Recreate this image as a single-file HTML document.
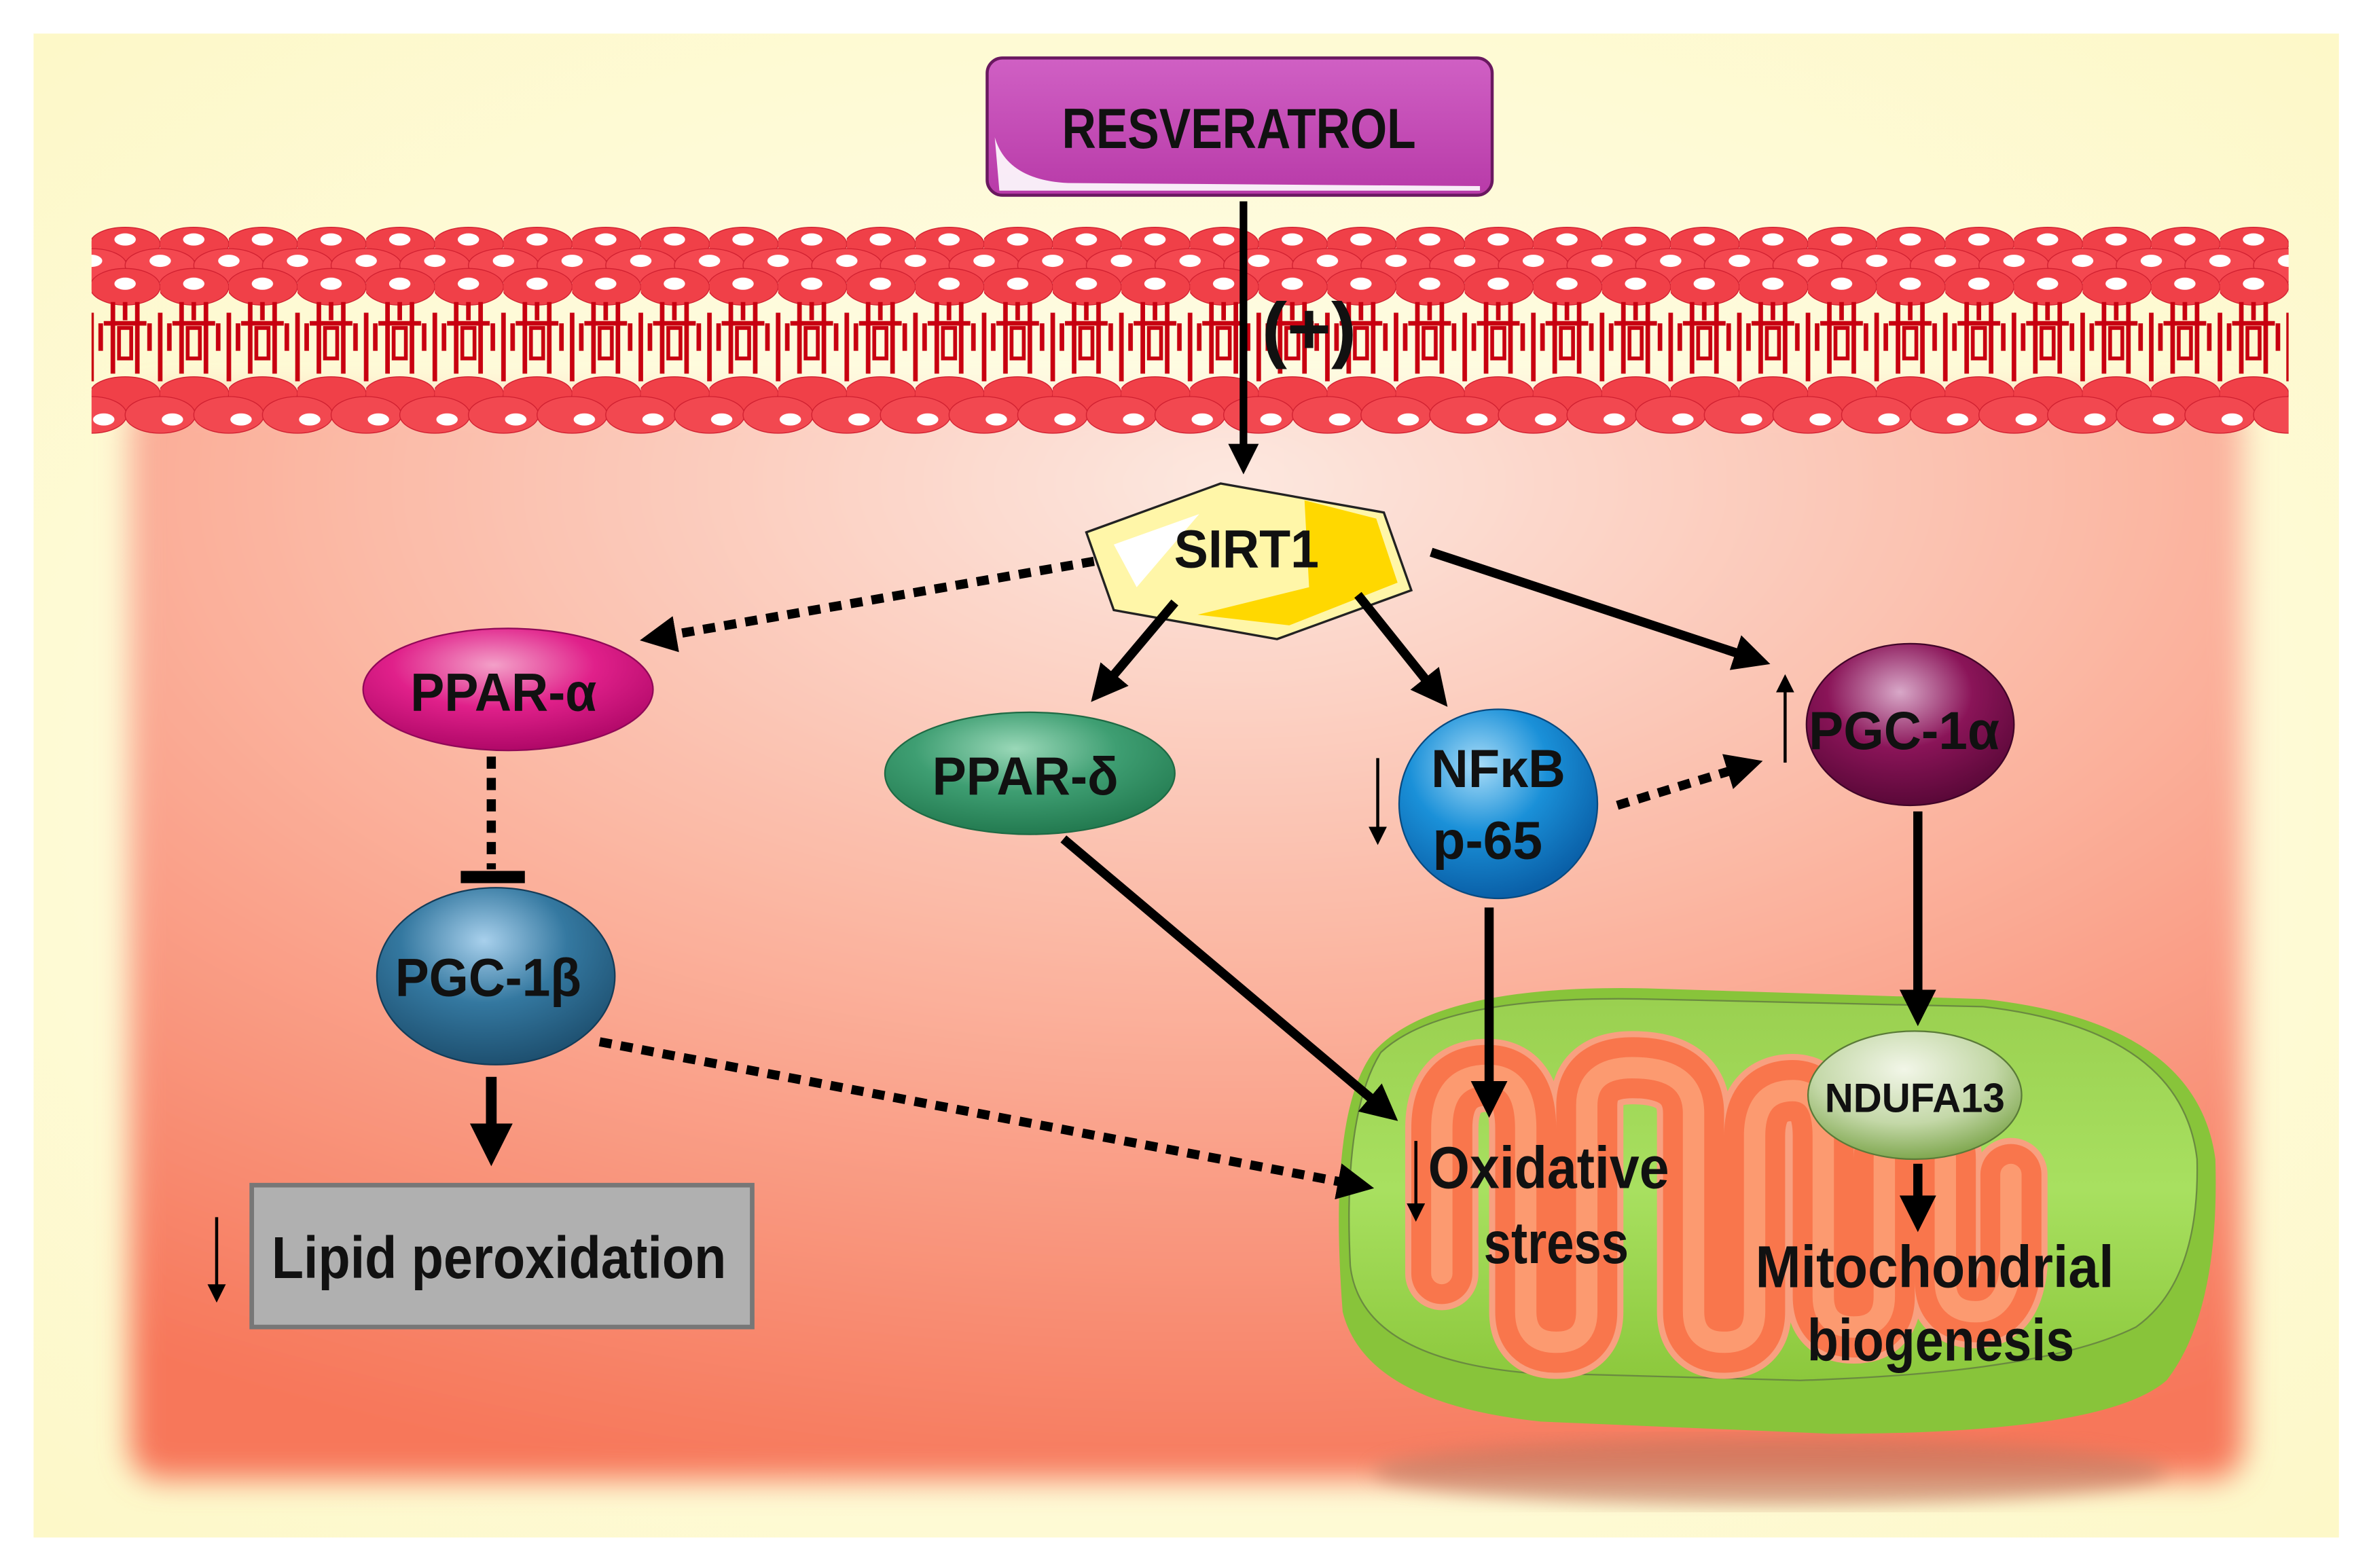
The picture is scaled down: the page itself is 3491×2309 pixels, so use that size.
<!DOCTYPE html>
<html><head><meta charset="utf-8"><style>
html,body{margin:0;padding:0;background:#fff;}
svg{display:block;}
text{font-family:"Liberation Sans",sans-serif;font-weight:bold;fill:#111;}
</style></head><body>
<svg width="3491" height="2309" viewBox="0 0 1554 1028" preserveAspectRatio="none" xmlns="http://www.w3.org/2000/svg">
<defs>
<radialGradient id="cream" cx="50%" cy="50%" r="70%">
<stop offset="0" stop-color="#fffef2"/><stop offset="1" stop-color="#fdf8c8"/></radialGradient>
<radialGradient id="cell" cx="52%" cy="8%" r="95%">
<stop offset="0" stop-color="#fde8e0"/><stop offset="0.45" stop-color="#fbb8a4"/><stop offset="1" stop-color="#f7775a"/></radialGradient>
<filter id="blur" x="-10%" y="-10%" width="120%" height="120%"><feGaussianBlur stdDeviation="10"/></filter>
<filter id="blur2"><feGaussianBlur stdDeviation="6"/></filter>
<pattern id="memTop" x="60" y="0" width="45" height="1028" patternUnits="userSpaceOnUse">
<ellipse cx="22" cy="160" rx="23" ry="11" fill="#f04048" stroke="#d02030" stroke-width="0.6"/>
<ellipse cx="22" cy="157" rx="7" ry="4" fill="#fff"/>
<ellipse cx="0" cy="174" rx="23" ry="11" fill="#f44850" stroke="#d02030" stroke-width="0.6"/>
<ellipse cx="45" cy="174" rx="23" ry="11" fill="#f44850" stroke="#d02030" stroke-width="0.6"/>
<ellipse cx="0" cy="171" rx="7" ry="4" fill="#fff"/><ellipse cx="45" cy="171" rx="7" ry="4" fill="#fff"/>
<ellipse cx="22" cy="188" rx="23" ry="12" fill="#f04048" stroke="#d02030" stroke-width="0.6"/>
<ellipse cx="22" cy="186" rx="7" ry="4" fill="#fff"/>
<path d="M14,198 V245 M30,198 V245 M8,212 H36 M6,212 V230 M38,212 V230 M22,198 V210 M0,205 V250 M45,205 V250" stroke="#c80010" stroke-width="3" fill="none"/>
<path d="M18,215 h8 v20 h-8 z" fill="none" stroke="#c80010" stroke-width="2.5"/>
<ellipse cx="22" cy="258" rx="23" ry="11" fill="#f04048" stroke="#d02030" stroke-width="0.6"/>
<ellipse cx="0" cy="272" rx="23" ry="12" fill="#f24850" stroke="#d02030" stroke-width="0.6"/>
<ellipse cx="45" cy="272" rx="23" ry="12" fill="#f24850" stroke="#d02030" stroke-width="0.6"/>
<ellipse cx="8" cy="275" rx="7" ry="4" fill="#fff"/><ellipse cx="53" cy="275" rx="7" ry="4" fill="#fff"/>
</pattern>
<linearGradient id="resv" x1="0" y1="0" x2="0" y2="1"><stop offset="0" stop-color="#d060c4"/><stop offset="1" stop-color="#b83aa8"/></linearGradient>
<radialGradient id="gA" cx="45%" cy="30%" r="70%"><stop offset="0" stop-color="#f3a0c8"/><stop offset="0.5" stop-color="#e0208a"/><stop offset="1" stop-color="#b00868"/></radialGradient>
<radialGradient id="gD" cx="45%" cy="30%" r="70%"><stop offset="0" stop-color="#9ad8b8"/><stop offset="0.5" stop-color="#3e9e72"/><stop offset="1" stop-color="#237a50"/></radialGradient>
<radialGradient id="gN" cx="40%" cy="30%" r="70%"><stop offset="0" stop-color="#a8dcf8"/><stop offset="0.5" stop-color="#1a90d8"/><stop offset="1" stop-color="#0a60a8"/></radialGradient>
<radialGradient id="gP" cx="45%" cy="30%" r="70%"><stop offset="0" stop-color="#d8a8c8"/><stop offset="0.5" stop-color="#8a1458"/><stop offset="1" stop-color="#5a0838"/></radialGradient>
<radialGradient id="gB" cx="45%" cy="30%" r="70%"><stop offset="0" stop-color="#a8d0ec"/><stop offset="0.5" stop-color="#3478a0"/><stop offset="1" stop-color="#1e5070"/></radialGradient>
<radialGradient id="gU" cx="45%" cy="30%" r="70%"><stop offset="0" stop-color="#f2f6e8"/><stop offset="0.6" stop-color="#c4d8a8"/><stop offset="1" stop-color="#80a850"/></radialGradient>
<linearGradient id="mito" x1="0" y1="0" x2="0" y2="1"><stop offset="0" stop-color="#9ad050"/><stop offset="0.5" stop-color="#a8e060"/><stop offset="1" stop-color="#8cc83c"/></linearGradient>
<marker id="ah" markerWidth="4" markerHeight="4" refX="2.2" refY="2" orient="auto" markerUnits="strokeWidth"><path d="M0,0 L4,2 L0,4 z" fill="#000"/></marker>
<marker id="ahs" markerWidth="6" markerHeight="6" refX="3" refY="3" orient="auto" markerUnits="strokeWidth"><path d="M0,0 L6,3 L0,6 z" fill="#000"/></marker>
</defs>

<rect x="22" y="22" width="1511" height="986" fill="url(#cream)"/>
<rect x="85" y="260" width="1385" height="710" rx="20" fill="url(#cell)" filter="url(#blur)"/>
<ellipse cx="1160" cy="965" rx="260" ry="22" fill="#c07860" opacity="0.6" filter="url(#blur2)"/>

<rect x="60" y="145" width="1440" height="145" fill="url(#memTop)"/>

<rect x="647" y="38" width="331" height="90" rx="10" fill="url(#resv)" stroke="#6a1860" stroke-width="2"/>
<path d="M652,90 Q660,118 700,120 L970,122 L970,125 L655,125 Z" fill="#fff" opacity="0.9"/>
<text x="812" y="97" font-size="37" text-anchor="middle" textLength="232" lengthAdjust="spacingAndGlyphs">RESVERATROL</text>
<line x1="815" y1="132" x2="815" y2="302" stroke="#000" stroke-width="5" marker-end="url(#ah)"/>
<text x="858" y="232" font-size="48" text-anchor="middle" font-weight="normal" textLength="62" lengthAdjust="spacingAndGlyphs">(+)</text>

<path d="M900,690 Q940,645 1080,648 L1300,655 Q1440,670 1452,760 Q1455,860 1420,905 Q1380,940 1200,940 L1010,932 Q895,920 880,860 Q870,730 900,690 Z" fill="#88c43a"/>
<path d="M905,690 Q945,652 1080,655 L1300,660 Q1430,675 1440,760 Q1442,840 1400,870 Q1340,900 1180,905 L1000,900 Q892,890 885,830 Q880,730 905,690 Z" fill="url(#mito)" stroke="#6a8a40" stroke-width="1"/>
<path d="M945,835 V740 Q945,705 975,705 Q1000,705 1000,740 V860 Q1000,880 1020,880 Q1040,880 1040,860 V725 Q1040,700 1070,700 Q1110,700 1110,730 V860 Q1110,880 1130,880 Q1150,880 1150,860 V745 Q1150,715 1175,715 Q1195,715 1195,745 V850 Q1195,870 1215,870 Q1235,870 1235,850 V760 Q1235,740 1255,740 Q1275,740 1275,760 V840 Q1275,860 1295,860 Q1315,860 1318,830 L1318,770" fill="none" stroke="#f8a080" stroke-width="48" stroke-linejoin="round" stroke-linecap="round"/>
<path d="M945,835 V740 Q945,705 975,705 Q1000,705 1000,740 V860 Q1000,880 1020,880 Q1040,880 1040,860 V725 Q1040,700 1070,700 Q1110,700 1110,730 V860 Q1110,880 1130,880 Q1150,880 1150,860 V745 Q1150,715 1175,715 Q1195,715 1195,745 V850 Q1195,870 1215,870 Q1235,870 1235,850 V760 Q1235,740 1255,740 Q1275,740 1275,760 V840 Q1275,860 1295,860 Q1315,860 1318,830 L1318,770" fill="none" stroke="#f9764c" stroke-width="40" stroke-linejoin="round" stroke-linecap="round"/>
<path d="M945,835 V740 Q945,705 975,705 Q1000,705 1000,740 V860 Q1000,880 1020,880 Q1040,880 1040,860 V725 Q1040,700 1070,700 Q1110,700 1110,730 V860 Q1110,880 1130,880 Q1150,880 1150,860 V745 Q1150,715 1175,715 Q1195,715 1195,745 V850 Q1195,870 1215,870 Q1235,870 1235,850 V760 Q1235,740 1255,740 Q1275,740 1275,760 V840 Q1275,860 1295,860 Q1315,860 1318,830 L1318,770" fill="none" stroke="#fc9a70" stroke-width="14" stroke-linejoin="round" stroke-linecap="round"/>

<polygon points="712,349 800,317 907,336 925,387 837,419 730,400" fill="#fff6a8" stroke="#222" stroke-width="1.5"/>
<polygon points="855,328 902,340 916,382 845,410 785,403 858,385" fill="#ffd800"/>
<polygon points="730,357 786,337 745,385" fill="#fff"/>
<text x="817" y="372" font-size="35" text-anchor="middle" textLength="95" lengthAdjust="spacingAndGlyphs">SIRT1</text>

<ellipse cx="333" cy="452" rx="95" ry="40" fill="url(#gA)" stroke="#900858" stroke-width="1"/>
<text x="330" y="466" font-size="35" text-anchor="middle" textLength="122" lengthAdjust="spacingAndGlyphs">PPAR-α</text>
<ellipse cx="675" cy="507" rx="95" ry="40" fill="url(#gD)" stroke="#1e6a44" stroke-width="1"/>
<text x="672" y="521" font-size="35" text-anchor="middle" textLength="122" lengthAdjust="spacingAndGlyphs">PPAR-δ</text>
<ellipse cx="982" cy="527" rx="65" ry="62" fill="url(#gN)" stroke="#084a80" stroke-width="1"/>
<text x="982" y="516" font-size="35" text-anchor="middle" textLength="88" lengthAdjust="spacingAndGlyphs">NFĸB</text>
<text x="975" y="563" font-size="35" text-anchor="middle" textLength="72" lengthAdjust="spacingAndGlyphs">p-65</text>
<ellipse cx="1252" cy="475" rx="68" ry="53" fill="url(#gP)" stroke="#400428" stroke-width="1"/>
<text x="1248" y="491" font-size="35" text-anchor="middle" textLength="125" lengthAdjust="spacingAndGlyphs">PGC-1α</text>
<ellipse cx="325" cy="640" rx="78" ry="58" fill="url(#gB)" stroke="#143c58" stroke-width="1"/>
<text x="320" y="653" font-size="35" text-anchor="middle" textLength="122" lengthAdjust="spacingAndGlyphs">PGC-1β</text>
<ellipse cx="1255" cy="718" rx="70" ry="42" fill="url(#gU)" stroke="#5a7a38" stroke-width="1"/>
<text x="1255" y="729" font-size="27" text-anchor="middle" textLength="118" lengthAdjust="spacingAndGlyphs">NDUFA13</text>

<rect x="165" y="777" width="328" height="93" fill="#b0b0b0" stroke="#777" stroke-width="3"/>
<text x="327" y="838" font-size="39" text-anchor="middle" textLength="298" lengthAdjust="spacingAndGlyphs">Lipid peroxidation</text>

<text x="1015" y="779" font-size="39" text-anchor="middle" textLength="158" lengthAdjust="spacingAndGlyphs">Oxidative</text>
<text x="1020" y="828" font-size="39" text-anchor="middle" textLength="95" lengthAdjust="spacingAndGlyphs">stress</text>
<text x="1268" y="844" font-size="39" text-anchor="middle" textLength="235" lengthAdjust="spacingAndGlyphs">Mitochondrial</text>
<text x="1272" y="892" font-size="39" text-anchor="middle" textLength="175" lengthAdjust="spacingAndGlyphs">biogenesis</text>

<g stroke="#000" stroke-width="6" fill="none">
<line x1="717" y1="368" x2="430" y2="418" stroke-dasharray="8,6" marker-end="url(#ah)"/>
<line x1="770" y1="395" x2="722" y2="452" marker-end="url(#ah)"/>
<line x1="890" y1="390" x2="942" y2="455" marker-end="url(#ah)"/>
<line x1="938" y1="362" x2="1150" y2="432" marker-end="url(#ah)"/>
<line x1="322" y1="496" x2="322" y2="570" stroke-dasharray="8,6"/>
<line x1="302" y1="575" x2="344" y2="575" stroke-width="8"/>
<line x1="322" y1="706" x2="322" y2="752" stroke-width="7" marker-end="url(#ah)"/>
<line x1="393" y1="683" x2="890" y2="777" stroke-dasharray="8,6" marker-end="url(#ah)"/>
<line x1="697" y1="550" x2="908" y2="728" marker-end="url(#ah)"/>
<line x1="976" y1="595" x2="976" y2="722" marker-end="url(#ah)"/>
<line x1="1060" y1="528" x2="1145" y2="502" stroke-dasharray="8,6" marker-end="url(#ah)"/>
<line x1="1257" y1="532" x2="1257" y2="662" marker-end="url(#ah)"/>
<line x1="1257" y1="763" x2="1257" y2="797" marker-end="url(#ah)"/>
</g>
<g stroke="#000" stroke-width="2" fill="none">
<line x1="142" y1="798" x2="142" y2="848" marker-end="url(#ahs)"/>
<line x1="1170" y1="500" x2="1170" y2="448" marker-end="url(#ahs)"/>
<line x1="903" y1="497" x2="903" y2="548" marker-end="url(#ahs)"/>
<line x1="928" y1="748" x2="928" y2="795" marker-end="url(#ahs)"/>
</g>
</svg>
</body></html>
